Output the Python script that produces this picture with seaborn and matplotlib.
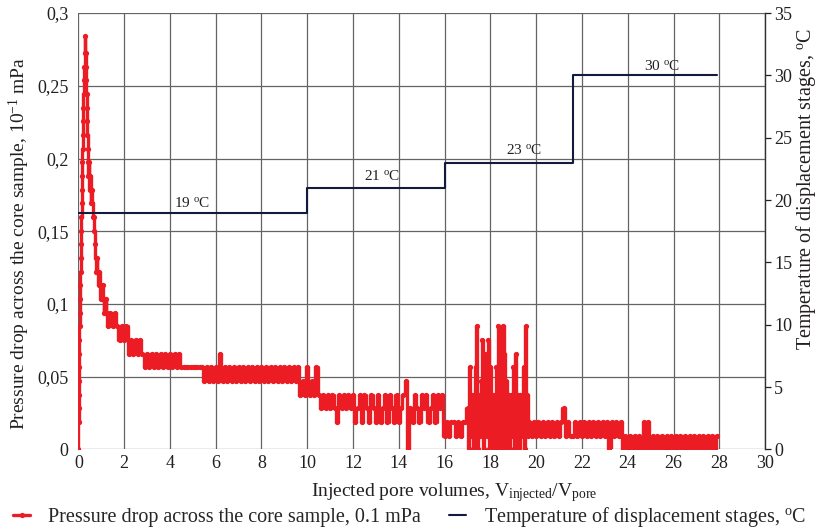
import numpy as np
import pandas as pd
import matplotlib
matplotlib.use("Agg")
import matplotlib.pyplot as plt
import seaborn as sns

# ---------------- data ----------------
# axis ticks
x_ticks = [0, 2, 4, 6, 8, 10, 12, 14, 16, 18, 20, 22, 24, 26, 28, 30]
p_ticks = [0, 0.05, 0.1, 0.15, 0.2, 0.25, 0.3]
p_tick_labels = ["0", "0,05", "0,1", "0,15", "0,2", "0,25", "0,3"]
t_ticks = [0, 5, 10, 15, 20, 25, 30, 35]

# pressure drop: initial peak (irregular sampling)
peak_x = [0.000, 0.006, 0.012, 0.018, 0.024, 0.030, 0.036, 0.042, 0.052, 0.062,
          0.073, 0.083, 0.094, 0.104, 0.115, 0.125, 0.136, 0.146, 0.157, 0.166,
          0.175, 0.184, 0.192, 0.200, 0.212, 0.228, 0.245, 0.262, 0.280, 0.298,
          0.315, 0.330, 0.345, 0.360, 0.375, 0.385, 0.395, 0.405, 0.415, 0.430,
          0.460, 0.490, 0.520, 0.550, 0.580, 0.610, 0.640, 0.670, 0.700, 0.730,
          0.760, 0.790, 0.820, 0.850, 0.880, 0.910, 0.940, 0.970, 1.000, 1.030,
          1.060, 1.090, 1.120, 1.150, 1.180, 1.210, 1.240]
peak_dp = [0.0, 0.0188, 0.0282, 0.0376, 0.047, 0.0564, 0.0658, 0.0752, 0.0846, 0.094,
           0.1034, 0.1128, 0.1222, 0.1316, 0.141, 0.1504, 0.1598, 0.1692, 0.1786, 0.188,
           0.1974, 0.2068, 0.2162, 0.2256, 0.235, 0.2444, 0.2538, 0.2632, 0.2726, 0.284,
           0.2726, 0.2632, 0.2538, 0.2444, 0.235, 0.2256, 0.2162, 0.2068, 0.1974, 0.188,
           0.1974, 0.1786, 0.188, 0.1692, 0.1786, 0.1692, 0.1598, 0.1598, 0.1504, 0.141,
           0.1316, 0.1222, 0.1316, 0.1222, 0.1128, 0.1222, 0.1128, 0.1034, 0.1128, 0.1034,
           0.1128, 0.1034, 0.094, 0.1034, 0.094, 0.1034, 0.094]

# pressure drop, regularly sampled stretches (start, end, readings)
s19_start, s19_end = 1.3, 9.9
s19_dp = [0.0846, 0.094, 0.0846, 0.094, 0.0846,
          0.0752, 0.0846, 0.0752, 0.0846,
          0.0658, 0.0752, 0.0658, 0.0752, 0.0658, 0.0752, 0.0658,
          0.0564, 0.0658, 0.0564, 0.0658, 0.0564, 0.0658, 0.0564, 0.0658,
          0.0564, 0.0658, 0.0564, 0.0658, 0.0564, 0.0658, 0.0564, 0.0658,
          0.0564, 0.0564, 0.0564, 0.0564, 0.0564, 0.0564, 0.0564, 0.0564, 0.0564, 0.0564,
          0.047, 0.0564, 0.047, 0.0564, 0.047, 0.0564, 0.047, 0.0658, 0.047, 0.0564,
          0.047, 0.0564, 0.047, 0.0564, 0.047, 0.0564, 0.047, 0.0564, 0.047, 0.0564,
          0.047, 0.0564, 0.047, 0.0564, 0.047, 0.0564, 0.047, 0.0564, 0.047, 0.0564,
          0.047, 0.0564, 0.047, 0.0564, 0.047, 0.0564, 0.047, 0.0564, 0.047, 0.0564,
          0.047, 0.0564, 0.0376, 0.047, 0.0376]

s21_start, s21_end = 10.0, 15.9
s21_dp = [0.0564, 0.0376, 0.047, 0.0376, 0.0564, 0.0376,
          0.0282, 0.0376, 0.0282, 0.0376, 0.0282, 0.0376, 0.0282, 0.0188, 0.0376, 0.0282,
          0.0376, 0.0282, 0.0376, 0.0282,
          0.0376, 0.0188, 0.0282, 0.0376, 0.0188, 0.0376, 0.0282, 0.0188, 0.0376, 0.0282,
          0.0188, 0.0376, 0.0188, 0.0282, 0.0376, 0.0188, 0.0376, 0.0282, 0.0188, 0.0376,
          0.0188, 0.0282, 0.0376, 0.047, 0.0, 0.0282, 0.0188, 0.0376, 0.0282, 0.0188,
          0.0376, 0.0282, 0.0376, 0.0188, 0.0282, 0.0376, 0.0188, 0.0376, 0.0282, 0.0376]

s23a_start, s23a_end = 16.0, 16.9
s23a_dp = [0.0094, 0.0188, 0.0094, 0.0188, 0.0188, 0.0094, 0.0188, 0.0094, 0.0188, 0.0188]

s23b_start, s23b_end = 17.0, 19.65
s23b_dp = [0.0282, 0.0, 0.0564, 0.0094, 0.0376, 0.0, 0.0376, 0.0564, 0.0846, 0.0,
           0.0376, 0.0094, 0.047, 0.0752, 0.0, 0.0376, 0.0658, 0.0094, 0.0752, 0.0,
           0.0564, 0.0188, 0.0376, 0.0, 0.0376, 0.0564, 0.0, 0.0846, 0.0094, 0.0376,
           0.0, 0.0846, 0.0658, 0.0, 0.047, 0.0094, 0.0376, 0.0, 0.0376, 0.0094,
           0.0564, 0.0, 0.0658, 0.0094, 0.0376, 0.0, 0.0376, 0.0094, 0.0376, 0.0564,
           0.0, 0.0846, 0.0376, 0.0094]

s23c_start, s23c_end = 19.7, 21.5
s23c_dp = [0.0188, 0.0094, 0.0188, 0.0094, 0.0188, 0.0094, 0.0188, 0.0094, 0.0188, 0.0094,
           0.0188, 0.0094, 0.0188, 0.0094, 0.0188, 0.0282, 0.0094, 0.0188, 0.0094]

s30_start, s30_end = 21.6, 27.9
s30_dp = [0.0094, 0.0188, 0.0094, 0.0188, 0.0094, 0.0188, 0.0094, 0.0188, 0.0094, 0.0188,
          0.0094, 0.0188, 0.0094, 0.0188, 0.0094, 0.0188, 0.0, 0.0188, 0.0094, 0.0188,
          0.0094, 0.0188,
          0.0, 0.0094, 0.0, 0.0094, 0.0, 0.0094, 0.0, 0.0094, 0.0, 0.0188, 0.0, 0.0188,
          0.0, 0.0094, 0.0, 0.0094, 0.0, 0.0094, 0.0, 0.0094, 0.0, 0.0094, 0.0, 0.0094,
          0.0, 0.0094, 0.0, 0.0094, 0.0, 0.0094, 0.0, 0.0094, 0.0, 0.0094, 0.0, 0.0094,
          0.0, 0.0094, 0.0, 0.0094, 0.0, 0.0094]

# temperature of displacement stages
temp_x = [0, 10, 10, 16, 16, 21.6, 21.6, 27.9]
temp_c = [19, 19, 21, 21, 23, 23, 30, 30]
stage_labels = ["19 $^{\\mathregular{o}}$C", "21 $^{\\mathregular{o}}$C",
                "23 $^{\\mathregular{o}}$C", "30 $^{\\mathregular{o}}$C"]
stage_label_x = [4.96, 13.28, 19.47, 25.52]
stage_label_t = [19.8, 21.97, 24.04, 30.77]

# ---------------- assemble ----------------
xs = [np.array(peak_x)]
ys = [np.array(peak_dp)]
for a, b, vals in [(s19_start, s19_end, s19_dp), (s21_start, s21_end, s21_dp),
                   (s23a_start, s23a_end, s23a_dp), (s23b_start, s23b_end, s23b_dp),
                   (s23c_start, s23c_end, s23c_dp), (s30_start, s30_end, s30_dp)]:
    xs.append(np.linspace(a, b, len(vals)))
    ys.append(np.array(vals))
df_p = pd.DataFrame({"pv": np.concatenate(xs), "dp": np.concatenate(ys)})
df_t = pd.DataFrame({"pv": temp_x, "t": temp_c})

# ---------------- style ----------------
sns.set_style("white")
plt.rcParams["font.family"] = ["Liberation Serif", "DejaVu Serif"]
plt.rcParams["mathtext.fontset"] = "custom"
plt.rcParams["mathtext.rm"] = "Liberation Serif"
plt.rcParams["mathtext.it"] = "Liberation Serif:italic"

RED = "#ec1c24"
NAVY = "#141a3c"
GRID = "#646464"
TXT = "#231f20"

fig = plt.figure(figsize=(8.18, 5.31), dpi=100)
ax = fig.add_axes([0.0958, 0.1535, 0.8395, 0.822])
ax2 = ax.twinx()

sns.lineplot(data=df_p, x="pv", y="dp", ax=ax, sort=False, estimator=None,
             color=RED, linewidth=2.4, marker="o", markersize=3.8,
             markeredgewidth=0, drawstyle="steps-mid",
             label="Pressure drop across the core sample, 0.1 mPa",
             legend=False)
sns.lineplot(data=df_t, x="pv", y="t", ax=ax2, sort=False, estimator=None,
             color=NAVY, linewidth=1.5,
             label="Temperature of displacement stages, $^{\\mathregular{o}}$C",
             legend=False)

ax.set_xlim(0, 30)
ax.set_ylim(0, 0.3)
ax2.set_ylim(0, 35)
ax.set_xticks(x_ticks)
ax.set_xticklabels([str(v) for v in x_ticks])
ax.set_yticks(p_ticks)
ax.set_yticklabels(p_tick_labels)
ax2.set_yticks(t_ticks)
ax2.set_yticklabels([str(v) for v in t_ticks])

ax.grid(True, color=GRID, linewidth=0.9)
ax.set_axisbelow(True)
for sp in ax.spines.values():
    sp.set_visible(False)
for name, sp in ax2.spines.items():
    sp.set_visible(name == "right")
ax2.spines["right"].set_color("#303030")
ax2.spines["right"].set_linewidth(1.0)

ax.tick_params(axis="both", length=0, labelsize=13, colors=TXT)
ax.tick_params(axis="y", pad=7)
ax.tick_params(axis="x", pad=4)
ax2.tick_params(axis="y", length=4, width=0.9, direction="out", pad=2.5,
                labelsize=13, colors=TXT)

ax.set_xlabel("Injected pore volumes, V$_{\\mathregular{injected}}$/V$_{\\mathregular{pore}}$",
              fontsize=14, color=TXT)
ax.xaxis.set_label_coords(0.547, -0.072)
ax.set_ylabel("Pressure drop across the core sample, 10$^{\\mathregular{-1}}$ mPa",
              fontsize=14, color=TXT)
ax.yaxis.set_label_coords(-0.068, 0.472)
ax2.set_ylabel("Temperature of displacement stages, $^{\\mathregular{o}}$C",
               fontsize=14.5, color=TXT)
ax2.yaxis.set_label_coords(1.042, 0.597)

for lab, lx, lt in zip(stage_labels, stage_label_x, stage_label_t):
    ax2.text(lx, lt, lab, ha="center", va="center", fontsize=11, color=TXT)

h1, l1 = ax.get_legend_handles_labels()
h2, l2 = ax2.get_legend_handles_labels()
fig.legend(h1 + h2, l1 + l2, loc="center", bbox_to_anchor=(0.501, 0.026),
           ncol=2, frameon=False, fontsize=14.5, handlelength=0.85,
           columnspacing=1.4, handletextpad=0.9)

fig.savefig("out.png", dpi=100)
